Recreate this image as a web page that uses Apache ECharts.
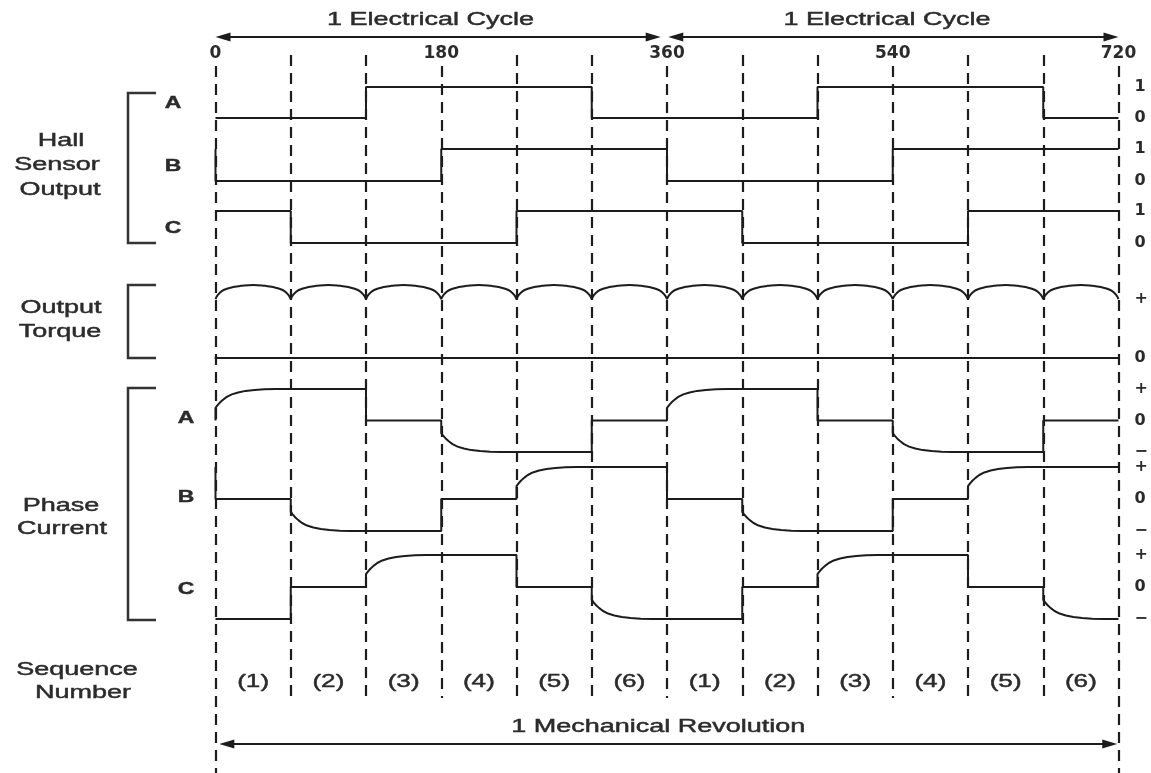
<!DOCTYPE html>
<html><head><meta charset="utf-8">
<script src="https://cdn.jsdelivr.net/npm/echarts@6/dist/echarts.min.js"></script>
<style>html,body{margin:0;padding:0;background:#fff}#c{width:1151px;height:773px}</style>
</head><body><div id="c"></div>
<script>
// ---------------- data ----------------
const boundaries = [0, 60, 120, 180, 240, 300, 360, 420, 480, 540, 600, 660, 720]; // commutation points (deg)
const tickLabels = [0, 180, 360, 540, 720];
// Hall sensor logic level in each 60-degree sector
const hallA = [0, 0, 1, 1, 1, 0, 0, 0, 1, 1, 1, 0];
const hallB = [0, 0, 0, 1, 1, 1, 0, 0, 0, 1, 1, 1];
const hallC = [1, 0, 0, 0, 1, 1, 1, 0, 0, 0, 1, 1];
// Phase current polarity in each sector (+1, 0, -1)
const phaseA = [1, 1, 0, -1, -1, 0, 1, 1, 0, -1, -1, 0];
const phaseB = [0, -1, -1, 0, 1, 1, 0, -1, -1, 0, 1, 1];
const phaseC = [-1, 0, 1, 1, 0, -1, -1, 0, 1, 1, 0, -1];
// current build-up after a phase is switched on (deg after commutation, fraction of full current)
const riseOffsets = [0, 1.5, 3.5, 6, 9, 13, 18, 24, 31, 39, 48];
const riseLevels  = [0.40, 0.48, 0.57, 0.66, 0.75, 0.83, 0.89, 0.94, 0.97, 0.99, 1.0];
// torque ripple inside one sector (deg after commutation, torque level; 1 = value at commutation)
const torqueOffsets = [0, 2, 5, 9, 14, 20, 30, 40, 46, 51, 55, 58, 60];
const torqueLevels  = [1.0, 1.075, 1.135, 1.175, 1.205, 1.225, 1.24, 1.225, 1.205, 1.175, 1.135, 1.075, 1.0];
const seqLabels = ['(1)', '(2)', '(3)', '(4)', '(5)', '(6)', '(1)', '(2)', '(3)', '(4)', '(5)', '(6)'];
const cycleArrows = [[0, 355], [361, 720]];   // 1 Electrical Cycle spans (deg)
const mechArrow = [3, 719];                   // 1 Mechanical Revolution span (deg)

// ---------------- build series data ----------------
function hallData(states) {
  const pts = [];
  const prev = states[states.length - 1];
  if (prev !== states[0]) pts.push([boundaries[0], prev]);
  states.forEach((s, k) => pts.push([boundaries[k], s]));
  pts.push([boundaries[boundaries.length - 1], states[states.length - 1]]);
  return pts;
}
function phaseData(states) {
  const pts = [];
  let prev = states[states.length - 1];
  states.forEach((s, k) => {
    const x0 = boundaries[k];
    if (s !== 0 && prev === 0) {
      pts.push([x0, 0]);
      riseOffsets.forEach((o, i) => pts.push([x0 + o, s * riseLevels[i]]));
    } else if (s === 0 && prev !== 0) {
      pts.push([x0, prev]); pts.push([x0, 0]);
    } else {
      pts.push([x0, s]);
    }
    prev = s;
  });
  pts.push([boundaries[boundaries.length - 1], prev]);
  return pts;
}
function torqueData() {
  const pts = [];
  for (let k = 0; k < boundaries.length - 1; k++) {
    torqueOffsets.forEach((o, i) => pts.push([boundaries[k] + o, torqueLevels[i]]));
    if (k < boundaries.length - 2) pts.push([boundaries[k + 1], '-']);
  }
  return pts;
}

// ---------------- layout ----------------
const INK = '#1c1c1c', TXT = '#2b2b2b';
const L = 215.5, R = 32.5;
const grids = [
  { top: 87, height: 31 },    // hall A
  { top: 149, height: 32 },   // hall B
  { top: 211, height: 32 },   // hall C
  { top: 284.4, height: 73.1 }, // torque
  { top: 389, height: 63 },   // phase A
  { top: 467, height: 64 },   // phase B
  { top: 555, height: 64 },   // phase C
  { top: 0, height: 773 },    // overlay
  { top: 70, height: 1 }      // top degree labels
].map(g => Object.assign({ left: L, right: R }, g));

const rightLabel = { fontFamily: 'DejaVu Sans', fontWeight: 'bold', fontSize: 16, color: TXT, margin: 16 };
const yAxes = [];
for (let i = 0; i < 3; i++) yAxes.push({ gridIndex: i, type: 'value', min: 0, max: 1, interval: 1, position: 'right',
  axisLine: { show: false }, axisTick: { show: false }, splitLine: { show: false },
  axisLabel: Object.assign({ formatter: v => String(v) }, rightLabel) });
yAxes.push({ gridIndex: 3, type: 'value', min: 0, max: 1.25, interval: 1, position: 'right',
  axisLine: { show: false }, axisTick: { show: false }, splitLine: { show: false },
  axisLabel: Object.assign({ formatter: v => v === 0 ? '0' : (v === 1 ? '+' : '') }, rightLabel) });
for (let i = 4; i < 7; i++) yAxes.push({ gridIndex: i, type: 'value', min: -1, max: 1, interval: 1, position: 'right',
  axisLine: { show: false }, axisTick: { show: false }, splitLine: { show: false },
  axisLabel: Object.assign({ formatter: v => v > 0 ? '+' : (v < 0 ? '\u2212' : '0') }, rightLabel) });
yAxes.push({ gridIndex: 7, type: 'value', min: 0, max: 773, inverse: true, show: false });
yAxes.push({ gridIndex: 8, type: 'value', min: 0, max: 1, show: false });

const xAxes = [];
for (let i = 0; i < 9; i++) {
  const ax = { gridIndex: i, type: 'value', min: 0, max: 720, show: false };
  if (i === 3) Object.assign(ax, { show: true, axisLine: { show: true, onZero: false, lineStyle: { color: INK, width: 2 } },
    axisTick: { show: false }, axisLabel: { show: false }, splitLine: { show: false } });
  if (i === 8) Object.assign(ax, { show: true, position: 'top', interval: 180,
    axisLine: { show: false }, axisTick: { show: false }, splitLine: { show: false },
    axisLabel: { show: true, margin: 8, fontFamily: 'DejaVu Sans', fontWeight: 'bold', fontSize: 17, color: TXT,
      formatter: v => tickLabels.indexOf(v) >= 0 ? String(v) : '' } });
  xAxes.push(ax);
}

const traceStyle = { color: INK, width: 2 };
const series = [];
[hallA, hallB, hallC].forEach((h, i) => series.push({ type: 'line', xAxisIndex: i, yAxisIndex: i, data: hallData(h),
  step: 'end', symbol: 'none', clip: false, lineStyle: traceStyle, silent: true }));
series.push({ type: 'line', xAxisIndex: 3, yAxisIndex: 3, data: torqueData(), smooth: 0.5, connectNulls: false,
  symbol: 'none', clip: false, lineStyle: traceStyle, silent: true });
[phaseA, phaseB, phaseC].forEach((p, i) => series.push({ type: 'line', xAxisIndex: 4 + i, yAxisIndex: 4 + i, data: phaseData(p),
  symbol: 'none', clip: false, lineStyle: traceStyle, silent: true }));

// dashed commutation lines
series.push({ type: 'line', xAxisIndex: 7, yAxisIndex: 7, data: [], silent: true, z: 1,
  markLine: { silent: true, symbol: 'none', animation: false, label: { show: false },
    lineStyle: { color: INK, width: 2.2, type: [11, 7] },
    data: boundaries.map(b => [
      { coord: [b, b % 180 === 0 ? 66 : 55] },
      { coord: [b, (b === boundaries[0] || b === boundaries[boundaries.length - 1]) ? 773 : 698] }]) } });
// double-headed arrows
const arrowInset = 6;
series.push({ type: 'line', xAxisIndex: 7, yAxisIndex: 7, data: [], silent: true,
  markLine: { silent: true, symbol: ['triangle', 'triangle'], symbolSize: [9, 15], animation: false, label: { show: false },
    lineStyle: { color: INK, width: 2, type: 'solid' },
    data: cycleArrows.map(a => [{ coord: [a[0] + arrowInset, 37] }, { coord: [a[1] - arrowInset, 37] }])
      .concat([[{ coord: [mechArrow[0] + arrowInset, 744] }, { coord: [mechArrow[1] - arrowInset, 744] }]]) } });
// sequence numbers and span captions
const textFont = '18px "Liberation Sans", Arial, sans-serif';
function textItem(txt, p, sx, font) {
  return { type: 'text', x: p[0], y: p[1], scaleX: sx,
    style: { text: txt, font: font || textFont, fill: TXT, stroke: TXT, lineWidth: 0.45,
      align: 'center', verticalAlign: 'middle', textAlign: 'center', textVerticalAlign: 'middle' } };
}
series.push({ type: 'custom', xAxisIndex: 7, yAxisIndex: 7, silent: true,
  data: seqLabels.map((t, i) => [(boundaries[i] + boundaries[i + 1]) / 2, 682]),
  renderItem: (params, api) => textItem(seqLabels[params.dataIndex], api.coord([api.value(0), api.value(1)]), 1.45) });
series.push({ type: 'custom', xAxisIndex: 7, yAxisIndex: 7, silent: true,
  data: [[(cycleArrows[0][0] + cycleArrows[0][1]) / 2 - 6, 20], [(cycleArrows[1][0] + cycleArrows[1][1]) / 2 - 5, 20],
         [(mechArrow[0] + mechArrow[1]) / 2 - 8, 727]],
  renderItem: (params, api) => textItem(params.dataIndex < 2 ? '1 Electrical Cycle' : '1 Mechanical Revolution',
    api.coord([api.value(0), api.value(1)]), 1.5) });
series.push({ type: 'line', xAxisIndex: 8, yAxisIndex: 8, data: [], silent: true });

// ---------------- left-hand annotation (labels and brackets) ----------------
const graphic = [];
const leftText = [
  ['Hall', 61, 141], ['Sensor', 57, 165], ['Output', 60, 190],
  ['Output', 61, 308], ['Torque', 60, 332],
  ['Phase', 61, 506], ['Current', 62, 529],
  ['Sequence', 77, 670], ['Number', 83, 693]
];
leftText.forEach(t => graphic.push(textItem(t[0], [t[1], t[2]], 1.5)));
const boldFont = 'bold 17px "Liberation Sans", Arial, sans-serif';
[['A', 173, 103], ['B', 173, 166], ['C', 173, 228], ['A', 186, 418], ['B', 186, 497], ['C', 186, 589]]
  .forEach(t => graphic.push(textItem(t[0], [t[1], t[2]], 1.35, boldFont)));
[[93, 243], [285, 358], [388, 620]].forEach(b => graphic.push({ type: 'polyline',
  shape: { points: [[156, b[0]], [128, b[0]], [128, b[1]], [156, b[1]]] },
  style: { stroke: '#333', lineWidth: 2.5, fill: null } }));

const chart = echarts.init(document.getElementById('c'), null, { renderer: 'canvas' });
chart.setOption({
  animation: false,
  backgroundColor: '#fff',
  grid: grids,
  xAxis: xAxes,
  yAxis: yAxes,
  series: series,
  graphic: graphic
});
</script>
</body></html>
